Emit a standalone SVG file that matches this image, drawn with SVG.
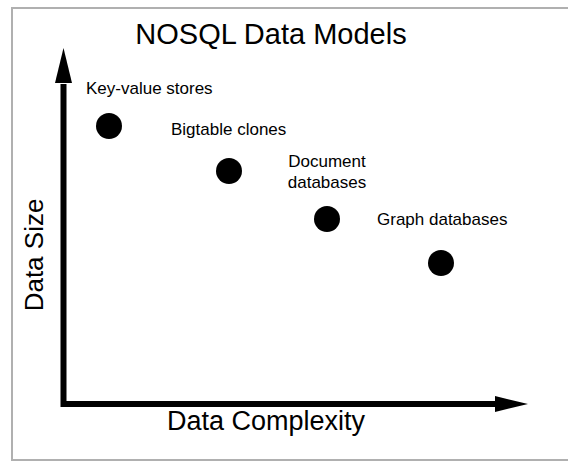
<svg xmlns="http://www.w3.org/2000/svg" width="568" height="462" viewBox="0 0 568 462">
<style>
text{font-family:"Liberation Sans",Arial,sans-serif;fill:#000}
.lbl{font-size:17px}
.dot{fill:#000}
.axis{stroke:#000;stroke-width:6;fill:none}
.head{fill:#000}
</style>
<rect x="12" y="8" width="570" height="452" fill="#fff" stroke="#b0b0b0" stroke-width="2"/>
<text x="271" y="44" font-size="29" text-anchor="middle">NOSQL Data Models</text>
<g id="connectors">
<path class="axis" d="M63.5,84 L63.5,404 L497,404"/>
<path class="head" d="M55,83 L63.5,48 L72,83 Z"/>
<path class="head" d="M495,396 L528,404 L495,412 Z"/>
</g>
<text x="43" y="255" font-size="26" text-anchor="middle" transform="rotate(-90 43 255)">Data Size</text>
<text x="266" y="430" font-size="27" text-anchor="middle">Data Complexity</text>
<g id="keyvalue">
<text class="lbl" x="86" y="94">Key-value stores</text>
<circle class="dot" cx="109" cy="126" r="13"/>
</g>
<g id="bigtable">
<text class="lbl" x="171" y="135">Bigtable clones</text>
<circle class="dot" cx="229" cy="171" r="13"/>
</g>
<g id="document">
<text class="lbl" x="327" y="167" text-anchor="middle">Document</text>
<text class="lbl" x="327" y="188" text-anchor="middle">databases</text>
<circle class="dot" cx="327" cy="219" r="13"/>
</g>
<g id="graph">
<text class="lbl" x="377" y="225">Graph databases</text>
<circle class="dot" cx="441" cy="263" r="13"/>
</g>
</svg>
